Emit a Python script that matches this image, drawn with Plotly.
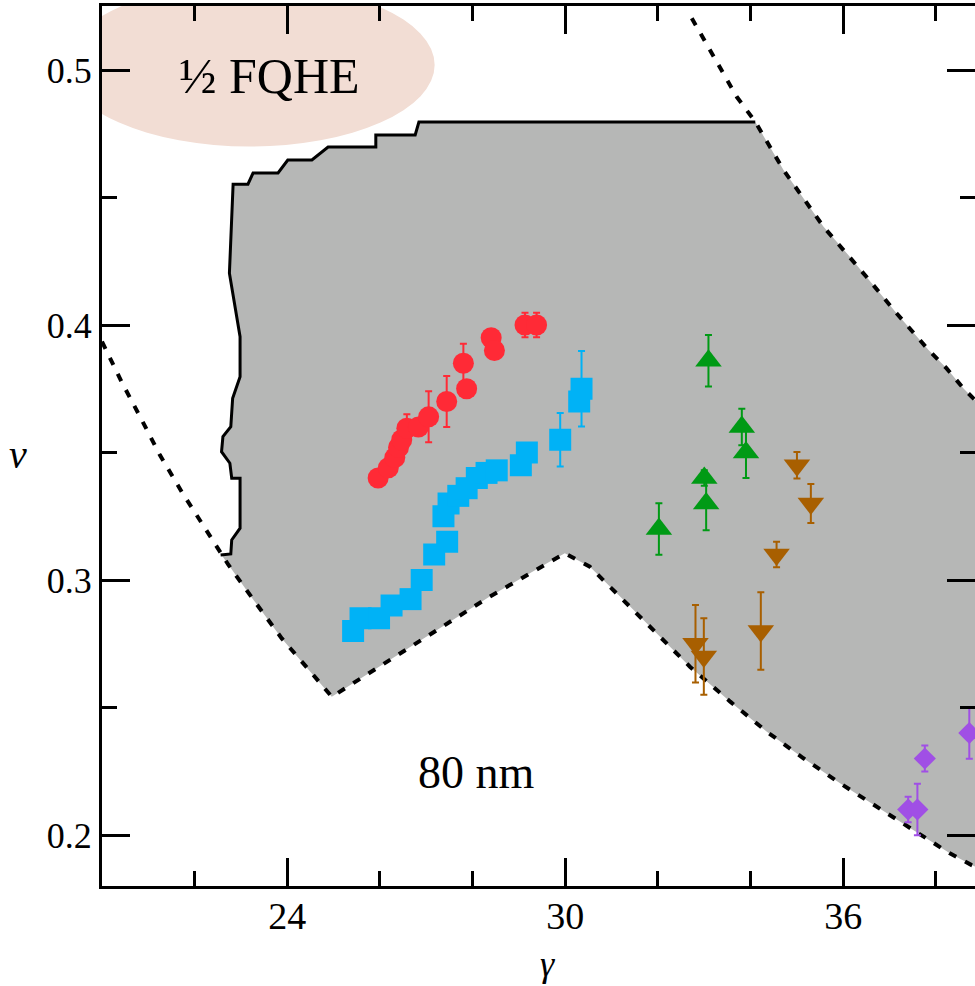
import plotly.graph_objects as go

# ---------------- data ----------------
# red circles
red_x = [25.96, 26.18, 26.32, 26.40, 26.47, 26.58, 26.83, 27.05, 27.44, 27.87, 27.80, 28.40, 28.47, 29.13, 29.38]
red_y = [0.340, 0.344, 0.348, 0.352, 0.355, 0.3595, 0.360, 0.364, 0.370, 0.375, 0.385, 0.395, 0.390, 0.400, 0.400]
red_err = [0.002, 0.002, 0.002, 0.003, 0.003, 0.0055, 0.003, 0.010, 0.010, 0.002, 0.0076, 0.002, 0.002, 0.0048, 0.0048]

# blue squares
blue_x = [25.42, 25.58, 25.98, 26.25, 26.66, 26.90, 27.17, 27.45, 27.37, 27.48, 27.69, 27.87, 28.09, 28.30, 28.52, 29.04, 29.17, 29.89, 30.30, 30.35]
blue_y = [0.280, 0.285, 0.285, 0.290, 0.2925, 0.300, 0.310, 0.315, 0.325, 0.330, 0.333, 0.336, 0.340, 0.342, 0.343, 0.345, 0.350, 0.355, 0.370, 0.375]
blue_err = [0.002, 0.002, 0.002, 0.002, 0.002, 0.002, 0.002, 0.002, 0.002, 0.002, 0.002, 0.002, 0.002, 0.003, 0.002, 0.002, 0.002, 0.0105, 0.003, 0.0148]

# green up-triangles
green_x = [33.09, 33.81, 33.90, 33.00, 33.04, 32.02]
green_y = [0.386, 0.360, 0.350, 0.340, 0.330, 0.320]
green_err = [0.0101, 0.0072, 0.0100, 0.0030, 0.0105, 0.0101]

# brown down-triangles
brown_x = [35.00, 35.30, 34.56, 34.22, 32.81, 32.99]
brown_y = [0.345, 0.330, 0.310, 0.280, 0.275, 0.270]
brown_err = [0.0052, 0.0076, 0.0050, 0.0152, 0.0152, 0.0150]

# purple diamonds
purple_x = [37.76, 37.40, 37.60, 38.72]
purple_y = [0.230, 0.210, 0.210, 0.240]
purple_err = [0.0051, 0.0050, 0.0101, 0.0101]

# solid phase boundary (left edge and stepped top)
solid_x = [22.56, 22.78, 22.80, 22.98, 22.98, 22.80, 22.76, 22.58, 22.61, 22.78, 22.82, 22.98, 22.98,
           22.75, 22.83, 23.15, 23.26, 23.80, 24.01, 24.53, 24.88, 25.91, 25.91, 26.76, 26.84, 34.10]
solid_y = [0.3098, 0.3102, 0.3157, 0.3203, 0.3399, 0.3399, 0.3458, 0.3503, 0.3562, 0.3601, 0.3713, 0.3797, 0.3954,
           0.4203, 0.4552, 0.4552, 0.4596, 0.4596, 0.4647, 0.4647, 0.4698, 0.4698, 0.4745, 0.4745, 0.4796, 0.4796]

# upper-right dashed boundary
upper_x = [32.73, 33.70, 34.10, 34.71, 35.57, 36.14, 36.50, 37.15, 37.84, 38.23, 38.59, 38.84, 39.00]
upper_y = [0.5203, 0.4895, 0.4797, 0.4608, 0.4386, 0.4268, 0.4189, 0.4046, 0.3902, 0.3830, 0.3752, 0.3706, 0.3670]

# lower dashed boundary (left curve, vertex, peak, right curve)
lower_x = [20.00, 20.42, 20.84, 21.25, 21.72, 22.22, 22.58, 22.73, 23.27, 23.88, 24.53, 24.96,
           28.37, 29.66, 29.99, 30.53, 31.33, 32.04, 32.69, 33.56, 34.35, 35.14, 35.93, 36.72, 37.51, 38.30, 38.77, 39.00]
lower_y = [0.3935, 0.3778, 0.3634, 0.3490, 0.3346, 0.3203, 0.3098, 0.3059, 0.2922, 0.2771, 0.2634, 0.2542,
           0.2935, 0.3072, 0.3105, 0.3052, 0.2909, 0.2778, 0.2660, 0.2523, 0.2405, 0.2301, 0.2203, 0.2111, 0.2020, 0.1928, 0.1882, 0.1865]

# gray region polygon: solid edge, upper dashed part, right edge, lower dashed part back
poly_x = solid_x + upper_x[3:] + lower_x[::-1][:-6]
poly_y = solid_y + upper_y[3:] + lower_y[::-1][:-6]

x_range = [20, 38.843]
y_range = [0.18, 0.5251]

SERIF = "Liberation Serif"
GRAY = "#B6B7B6"

fig = go.Figure()

fig.add_trace(go.Scatter(x=poly_x, y=poly_y, mode="lines", fill="toself", fillcolor=GRAY,
                         line=dict(width=0, color=GRAY), hoverinfo="skip", showlegend=False))
fig.add_trace(go.Scatter(x=solid_x, y=solid_y, mode="lines", line=dict(color="black", width=3),
                         hoverinfo="skip", showlegend=False))
fig.add_trace(go.Scatter(x=lower_x, y=lower_y, mode="lines",
                         line=dict(color="black", width=4, dash="8px,10px"),
                         hoverinfo="skip", showlegend=False))
fig.add_trace(go.Scatter(x=upper_x, y=upper_y, mode="lines", yaxis="y2",
                         line=dict(color="black", width=4, dash="8px,10px"),
                         hoverinfo="skip", showlegend=False))


def add_points(xs, ys, errs, color, symbol, size):
    fig.add_trace(go.Scatter(
        x=xs, y=ys, mode="markers", showlegend=False,
        marker=dict(color=color, symbol=symbol, size=size, line=dict(width=0)),
        error_y=dict(type="data", array=errs, visible=True, color=color, thickness=2, width=3.5)))


add_points(blue_x, blue_y, blue_err, "#00B2F6", "square", 22)
add_points(red_x, red_y, red_err, "#FF2A36", "circle", 21)
add_points(green_x, green_y, green_err, "#009A15", "triangle-up", 23)
add_points(brown_x, brown_y, brown_err, "#A85F00", "triangle-down", 23)
add_points(purple_x, purple_y, purple_err, "#A04FE5", "diamond", 17)

# 1/2 FQHE ellipse
fig.add_shape(type="circle", xref="x", yref="y", x0=19.2, x1=27.18, y0=0.470, y1=0.534,
              fillcolor="#F2DDD4", line=dict(width=0), layer="below")

fig.add_annotation(x=23.62, y=0.4975, xref="x", yref="y", text="½ FQHE", showarrow=False,
                   font=dict(family=SERIF, size=50, color="black"))
fig.add_annotation(x=28.08, y=0.2245, xref="x", yref="y", text="80 nm", showarrow=False,
                   font=dict(family=SERIF, size=46, color="black"))
fig.add_annotation(x=-0.096, y=0.49, xref="paper", yref="paper", xanchor="center", yanchor="middle",
                   text="<i>ν</i>", showarrow=False,
                   font=dict(family=SERIF, size=40, color="black"))
fig.add_annotation(x=0.51, y=-0.0885, xref="paper", yref="paper", xanchor="center", yanchor="middle",
                   text="<i>γ</i>", showarrow=False,
                   font=dict(family=SERIF, size=36, color="black"))

axis_common = dict(showgrid=False, zeroline=False, ticks="inside", tickcolor="black",
                   tickwidth=2.5, ticklen=28)

fig.update_layout(
    width=975, height=986,
    margin=dict(l=102, r=0, t=6, b=100),
    plot_bgcolor="white", paper_bgcolor="white",
    font=dict(family=SERIF, color="black"),
    xaxis=dict(range=x_range, tickmode="linear", tick0=0, dtick=6,
               showline=True, linecolor="black", linewidth=3, mirror="ticks",
               tickfont=dict(family=SERIF, size=38), ticklabelstandoff=-6,
               minor=dict(ticks="inside", tickmode="linear", tick0=0, dtick=2, ticklen=15,
                          tickwidth=2.5, tickcolor="black"),
               **axis_common),
    yaxis=dict(range=y_range, tickmode="linear", tick0=0, dtick=0.1, tickformat=".1f",
               showline=True, linecolor="black", linewidth=3, mirror=False,
               tickfont=dict(family=SERIF, size=36),
               minor=dict(ticks="inside", tickmode="linear", tick0=0, dtick=0.05, ticklen=15,
                          tickwidth=2.5, tickcolor="black"),
               **axis_common),
    yaxis2=dict(range=y_range, overlaying="y", side="right", showline=False, showticklabels=False,
                tickmode="linear", tick0=0, dtick=0.1,
                minor=dict(ticks="inside", tickmode="linear", tick0=0, dtick=0.05, ticklen=15,
                           tickwidth=2.5, tickcolor="black"),
                **axis_common),
)

fig.write_html("out.html")
